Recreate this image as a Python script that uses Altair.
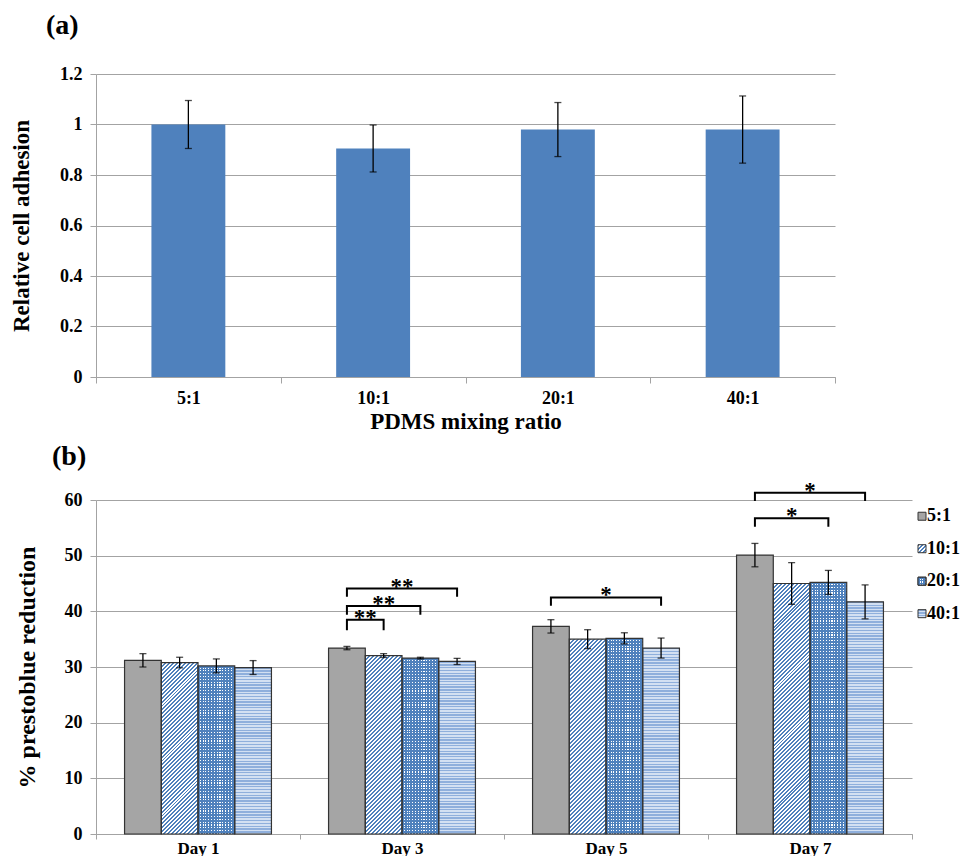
import math
import altair as alt
import pandas as pd

SERIF = "Liberation Serif"

# ---------------- data: panel (a) ----------------
ratios = ["5:1", "10:1", "20:1", "40:1"]
adhesion = [1.0, 0.905, 0.98, 0.98]
adhesion_err = [0.095, 0.093, 0.107, 0.133]

# ---------------- data: panel (b) ----------------
days = ["Day 1", "Day 3", "Day 5", "Day 7"]
red_5 = [31.2, 33.4, 37.3, 50.1]
red_10 = [30.8, 32.05, 35.0, 45.0]
red_20 = [30.2, 31.6, 35.15, 45.2]
red_40 = [29.9, 31.0, 33.4, 41.7]
err_5 = [1.2, 0.3, 1.2, 2.1]
err_10 = [0.95, 0.35, 1.7, 3.75]
err_20 = [1.25, 0.15, 1.0, 2.15]
err_40 = [1.25, 0.55, 1.8, 3.05]

# significance brackets (from 5:1 to the target ratio)
sig_day = ["Day 3", "Day 3", "Day 3", "Day 5", "Day 7", "Day 7"]
sig_to = ["10:1", "20:1", "40:1", "40:1", "20:1", "40:1"]
sig_top = [38.5, 40.95, 44.1, 42.5, 56.7, 61.3]
sig_leg = [36.6, 39.4, 42.6, 41.0, 55.2, 59.8]
sig_label = ["**", "**", "**", "*", "*", "*"]

# ---------------- layout / style ----------------
A_W, A_H = 739, 303
B_W, B_H = 816, 334
B_YMAX = 60
GROUP = 0.72                      # share of a day band used by the 4 bars
N_S = len(ratios)
P_OUT = (N_S / GROUP - N_S) / 2   # outer padding of the offset scale
BAR_FRAC = GROUP / N_S            # one bar, in day-band units
BAR_W = B_W / len(days) * BAR_FRAC
PERIOD = 2.8

GRID = "#A3A3A3"
BLUE = "#4F81BD"
GRAY = "#A5A5A5"
EDGE = "#333333"
LIGHT1 = "#8FAFDC"
LIGHT2 = "#D3E0F2"


def stripes(c1, c2, n, frac, x2, y2):
    stops = []
    for k in range(n):
        a, b, c = k / n, (k + frac) / n, (k + 1) / n
        stops += [
            alt.GradientStop(offset=round(a, 5), color=c1),
            alt.GradientStop(offset=round(b, 5), color=c1),
            alt.GradientStop(offset=round(b, 5), color=c2),
            alt.GradientStop(offset=round(c, 5), color=c2),
        ]
    return alt.LinearGradient(gradient="linear", stops=stops, x1=0, y1=0, x2=x2, y2=y2)


def diag(w, h, c1, c2, frac=0.5):
    k = (w + h) / (w * w + h * h)
    n = max(2, round((w + h) / (math.sqrt(2) * PERIOD)))
    return stripes(c1, c2, n, frac, k * w, k * h)


def horiz(h, c1, c2, frac=0.5):
    return stripes(c1, c2, max(2, round(h / PERIOD)), frac, 0, 1)


def vert(w, c1, c2, frac=0.5):
    return stripes(c1, c2, max(2, round(w / PERIOD)), frac, 1, 0)


def pattern_fills(series, w, h):
    if series == "10:1":
        return [diag(w, h, BLUE, "#FFFFFF")]
    if series == "20:1":
        return [horiz(h, BLUE, "#FFFFFF", 0.6), vert(w, BLUE, "rgba(255,255,255,0)", 0.6)]
    if series == "40:1":
        return [horiz(h, LIGHT1, LIGHT2)]
    return [GRAY]


def lab(size, weight="bold"):
    return dict(labelFont=SERIF, labelFontSize=size, labelFontWeight=weight, labelColor="black")


def ttl(size):
    return dict(titleFont=SERIF, titleFontSize=size, titleFontWeight="bold", titleColor="black")


# ================= panel (a) =================
df_a = pd.DataFrame({"ratio": ratios, "value": adhesion, "err": adhesion_err})
df_a["lo"] = df_a["value"] - df_a["err"]
df_a["hi"] = df_a["value"] + df_a["err"]

xa = alt.X("ratio:N", sort=ratios,
           scale=alt.Scale(domain=ratios, paddingInner=0, paddingOuter=0),
           axis=alt.Axis(title="PDMS mixing ratio", labelAngle=0, tickBand="extent",
                         tickSize=6, tickColor=GRID, domainColor=GRID, grid=False,
                         labelPadding=6, titlePadding=3, **lab(18), **ttl(23)))
ya_scale = alt.Scale(domain=[0, 1.2], nice=False, zero=True)
ya_axis = alt.Axis(title="Relative cell adhesion", values=[0, 0.2, 0.4, 0.6, 0.8, 1.0, 1.2],
                   format=".1~f", grid=True, gridColor=GRID, domainColor=GRID, tickColor=GRID,
                   tickSize=6, labelPadding=8, titlePadding=26, **lab(18), **ttl(23))

base_a = alt.Chart(df_a).encode(x=xa)
bars_a = base_a.mark_bar(width=alt.RelativeBandSize(0.4), color=BLUE).encode(
    y=alt.Y("value:Q", scale=ya_scale, axis=ya_axis))
rule_a = base_a.mark_rule(color="black", strokeWidth=1.3).encode(
    y=alt.Y("lo:Q", scale=ya_scale, axis=ya_axis), y2="hi:Q")
caplo_a = base_a.mark_tick(orient="horizontal", size=7, thickness=1.3, color="black").encode(
    y=alt.Y("lo:Q", scale=ya_scale, axis=ya_axis))
caphi_a = base_a.mark_tick(orient="horizontal", size=7, thickness=1.3, color="black").encode(
    y=alt.Y("hi:Q", scale=ya_scale, axis=ya_axis))

chart_a = alt.layer(bars_a, rule_a, caplo_a, caphi_a).properties(
    width=A_W, height=A_H,
    title=alt.TitleParams("(a)", anchor="start", frame="group", dx=-50, offset=25,
                          font=SERIF, fontSize=28, fontWeight="bold", color="black"))

# ================= panel (b) =================
vals = {"5:1": red_5, "10:1": red_10, "20:1": red_20, "40:1": red_40}
errs = {"5:1": err_5, "10:1": err_10, "20:1": err_20, "40:1": err_40}
rows = []
for i, d in enumerate(days):
    for k, s in enumerate(ratios):
        v, e = vals[s][i], errs[s][i]
        rows.append({"day": d, "series": s, "value": v, "lo": v - e, "hi": v + e,
                     "pos": i + (P_OUT + k + 0.5) * BAR_FRAC})
df_b = pd.DataFrame(rows)
pos_of = {(r["day"], r["series"]): r["pos"] for r in rows}

xb = alt.X("day:N", sort=days,
           scale=alt.Scale(domain=days, paddingInner=0, paddingOuter=0),
           axis=alt.Axis(title=None, labelAngle=0, tickBand="extent", tickSize=5,
                         tickColor=GRID, domainColor=GRID, grid=False, labelPadding=1, **lab(17)))
xob = alt.XOffset("series:N", sort=ratios,
                  scale=alt.Scale(domain=ratios, paddingInner=0, paddingOuter=P_OUT))
yb_scale = alt.Scale(domain=[0, B_YMAX], nice=False, zero=True)
yb_axis = alt.Axis(title="% prestoblue reduction", values=list(range(0, 61, 10)),
                   grid=True, gridColor=GRID, domainColor=GRID, tickColor=GRID, tickSize=6,
                   labelPadding=8, titlePadding=25, **lab(18), **ttl(24))
yb = alt.Y("value:Q", scale=yb_scale, axis=yb_axis)

bar_base = alt.Chart(df_b).encode(x=xb, xOffset=xob, y=yb)
bar_layers = [bar_base.transform_filter(alt.datum.series == "5:1").mark_bar(fill=GRAY)]
for i, d in enumerate(days):
    for s in ratios[1:]:
        h = vals[s][i] / B_YMAX * B_H
        for f in pattern_fills(s, BAR_W, h):
            bar_layers.append(
                bar_base.transform_filter((alt.datum.day == d) & (alt.datum.series == s))
                .mark_bar(fill=f))
bar_layers.append(bar_base.mark_bar(fill="transparent", stroke=EDGE, strokeWidth=1.2))
bars_b = alt.layer(*bar_layers)

xq = alt.X("pos:Q", scale=alt.Scale(domain=[0, len(days)], nice=False, zero=False), axis=None)
ov = alt.Chart(df_b).encode(x=xq)
rule_b = ov.mark_rule(color="black", strokeWidth=1.3).encode(
    y=alt.Y("lo:Q", scale=yb_scale, axis=yb_axis), y2="hi:Q")
caplo_b = ov.mark_tick(orient="horizontal", size=7, thickness=1.3, color="black").encode(
    y=alt.Y("lo:Q", scale=yb_scale, axis=yb_axis))
caphi_b = ov.mark_tick(orient="horizontal", size=7, thickness=1.3, color="black").encode(
    y=alt.Y("hi:Q", scale=yb_scale, axis=yb_axis))

br_rows, star_rows = [], []
for j in range(len(sig_day)):
    p0 = pos_of[(sig_day[j], "5:1")]
    p1 = pos_of[(sig_day[j], sig_to[j])]
    for o, (p, yv) in enumerate([(p0, sig_leg[j]), (p0, sig_top[j]),
                                 (p1, sig_top[j]), (p1, sig_leg[j])]):
        br_rows.append({"bid": j, "ord": o, "pos": p, "yv": yv})
    star_rows.append({"pos": (p0 + p1) / 2, "yv": sig_top[j], "label": sig_label[j]})
df_br = pd.DataFrame(br_rows)
df_star = pd.DataFrame(star_rows)

brackets = alt.Chart(df_br).mark_line(color="black", strokeWidth=2).encode(
    x=xq, y=alt.Y("yv:Q", scale=yb_scale, axis=yb_axis), detail="bid:N", order="ord:Q")
stars = alt.Chart(df_star).mark_text(font=SERIF, fontSize=23, fontWeight="bold",
                                     baseline="alphabetic", dy=5, color="black").encode(
    x=xq, y=alt.Y("yv:Q", scale=yb_scale, axis=yb_axis), text="label:N")

overlay = alt.layer(rule_b, caplo_b, caphi_b, brackets, stars)

chart_b = alt.layer(bars_b, overlay).resolve_scale(x="independent").properties(
    width=B_W, height=B_H,
    title=alt.TitleParams("(b)", anchor="start", frame="group", dx=-44, offset=9,
                          font=SERIF, fontSize=28, fontWeight="bold", color="black"))

# ---------------- legend for (b) ----------------
LEG_STEP = 28
LEG_PAD = 0.32
df_leg = pd.DataFrame({"series": ratios})
yl = alt.Y("series:N", sort=ratios, axis=None,
           scale=alt.Scale(domain=ratios, paddingInner=0, paddingOuter=LEG_PAD))
leg_base = alt.Chart(df_leg).encode(y=yl)
leg_layers = []
for s in ratios:
    for f in pattern_fills(s, 8, 8):
        leg_layers.append(leg_base.transform_filter(alt.datum.series == s)
                          .mark_square(size=64, fill=f, opacity=1, stroke=EDGE, strokeWidth=1))
leg_layers.append(leg_base.mark_text(align="left", dx=5, baseline="middle", font=SERIF,
                                     fontSize=18, fontWeight="bold", color="black")
                  .encode(text="series:N"))
legend = alt.layer(*leg_layers).properties(width=10, height=LEG_STEP * (N_S + 2 * LEG_PAD))

row_b = alt.hconcat(chart_b, legend, spacing=3)

chart = alt.vconcat(chart_a, row_b, spacing=9).properties(
    padding={"left": 2, "top": 4, "right": 0, "bottom": 0}
).configure_view(stroke=None)

chart.save("out.html", embed_options={"renderer": "svg", "actions": False})
